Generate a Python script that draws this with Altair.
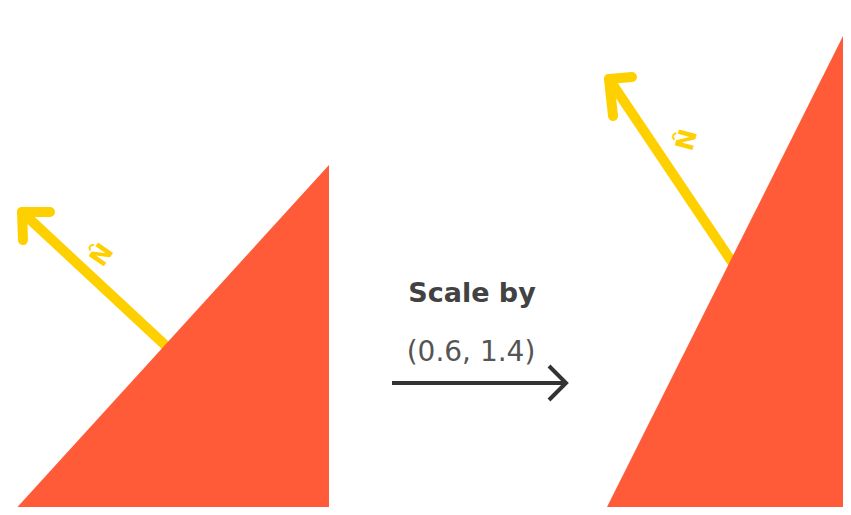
import altair as alt
import pandas as pd

# ---- geometry (page pixel coordinates) ----
# filled triangles: x positions, top edge y, bottom edge y
left_tri_x = [12, 329]
left_tri_top = [513, 165]
left_tri_bottom = [513, 513]
right_tri_x = [603, 851]
right_tri_top = [515, 20]
right_tri_bottom = [515, 515]

# normal vectors (yellow): shaft base -> tip, and the two head arms
normal_names = ["left", "right"]
normal_base_x = [165, 732]
normal_base_y = [345, 262]
normal_tip_x = [22, 609]
normal_tip_y = [212, 79]
arm1_x = [50, 632]
arm1_y = [212, 77]
arm2_x = [23, 613]
arm2_y = [240, 116]

# label of the normal vectors (N-hat)
label_text = ["N\u0302", "N\u0302"]
label_x = [102, 687]
label_y = [255, 140]
label_angle = [305, 285]

# central transform arrow
arrow_x = [392, 566]
arrow_y = [383, 383]
arrow_arm_x = [549, 549]
arrow_arm_y = [366, 400]

# texts
caption_lines = ["Scale by", "(0.6, 1.4)"]
caption_x = [472, 471]
caption_y = [302, 361]

ORANGE = "#FF5B39"
YELLOW = "#FFD000"

X = alt.Scale(domain=[8, 843])
Y = alt.Scale(domain=[507, 8])

tri_rows = []
for i in range(2):
    tri_rows.append({"shape": "left", "x": left_tri_x[i], "top": left_tri_top[i], "bottom": left_tri_bottom[i]})
    tri_rows.append({"shape": "right", "x": right_tri_x[i], "top": right_tri_top[i], "bottom": right_tri_bottom[i]})
tri_df = pd.DataFrame(tri_rows)

seg_rows = []
for i, n in enumerate(normal_names):
    seg_rows += [
        {"seg": n + "_shaft", "o": 0, "x": normal_base_x[i], "y": normal_base_y[i]},
        {"seg": n + "_shaft", "o": 1, "x": normal_tip_x[i], "y": normal_tip_y[i]},
        {"seg": n + "_head", "o": 0, "x": arm1_x[i], "y": arm1_y[i]},
        {"seg": n + "_head", "o": 1, "x": normal_tip_x[i], "y": normal_tip_y[i]},
        {"seg": n + "_head", "o": 2, "x": arm2_x[i], "y": arm2_y[i]},
    ]
seg_df = pd.DataFrame(seg_rows)

dark_rows = [
    {"seg": "shaft", "o": 0, "x": arrow_x[0], "y": arrow_y[0]},
    {"seg": "shaft", "o": 1, "x": arrow_x[1], "y": arrow_y[1]},
    {"seg": "head", "o": 0, "x": arrow_arm_x[0], "y": arrow_arm_y[0]},
    {"seg": "head", "o": 1, "x": arrow_x[1], "y": arrow_y[1]},
    {"seg": "head", "o": 2, "x": arrow_arm_x[1], "y": arrow_arm_y[1]},
]
dark_df = pd.DataFrame(dark_rows)

label_df = pd.DataFrame({"t": label_text, "x": label_x, "y": label_y, "a": label_angle})
cap_df = pd.DataFrame({"t": caption_lines, "x": caption_x, "y": caption_y})

enc_xy = dict(
    x=alt.X("x:Q", scale=X, axis=None),
    y=alt.Y("y:Q", scale=Y, axis=None),
)

yellow = alt.Chart(seg_df).mark_line(
    color=YELLOW, strokeWidth=10, strokeCap="round", strokeJoin="round", clip=True
).encode(detail="seg:N", order="o:Q", **enc_xy)

labels = alt.Chart(label_df).mark_text(
    color=YELLOW, fontSize=25, font="DejaVu Sans", fontWeight="bold",
    baseline="middle", align="center",
).encode(text="t:N", angle=alt.Angle("a:Q", scale=None), **enc_xy)

tris = alt.Chart(tri_df).mark_area(color=ORANGE, opacity=1, clip=True).encode(
    x=alt.X("x:Q", scale=X, axis=None),
    y=alt.Y("top:Q", scale=Y, axis=None),
    y2="bottom:Q",
    detail="shape:N",
)

dark = alt.Chart(dark_df).mark_line(
    color="#333333", strokeWidth=4, strokeCap="butt", strokeJoin="miter"
).encode(detail="seg:N", order="o:Q", **enc_xy)

caption_bold = alt.Chart(cap_df.iloc[[0]]).mark_text(
    color="#424242", fontSize=27, font="DejaVu Sans", fontWeight="bold",
    baseline="alphabetic", align="center",
).encode(text="t:N", **enc_xy)

caption_norm = alt.Chart(cap_df.iloc[[1]]).mark_text(
    color="#555555", fontSize=28, font="DejaVu Sans",
    baseline="alphabetic", align="center",
).encode(text="t:N", **enc_xy)

chart = alt.layer(yellow, labels, tris, dark, caption_bold, caption_norm).properties(
    width=835, height=499, padding=0, autosize=alt.AutoSizeParams(type="none"),
    background="white",
).configure_view(stroke=None)

chart.save("out.html", embed_options={"renderer": "svg", "actions": False})
